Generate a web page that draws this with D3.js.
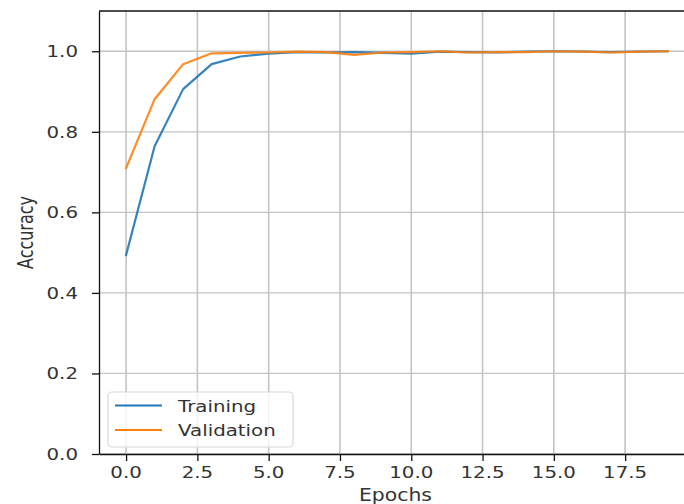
<!DOCTYPE html>
<html>
<head>
<meta charset="utf-8">
<script src="https://cdn.jsdelivr.net/npm/d3@7"></script>
<style>
    body { margin: 0; background: #fff; }
    svg { display: block; }
</style>
</head>
<body>
<div id="chart"></div>
<script>
//// data
let epochs = [0, 1, 2, 3, 4, 5, 6, 7, 8, 9, 10, 11, 12, 13, 14, 15, 16, 17, 18, 19]
let training = [0.494, 0.764, 0.906, 0.968, 0.987, 0.994, 0.998, 0.997, 0.998, 0.996,
    0.994, 0.999, 0.998, 0.997, 0.999, 1.0, 0.999, 0.998, 0.999, 1.0]
let validation = [0.71, 0.881, 0.968, 0.995, 0.996, 0.997, 0.999, 0.998, 0.991, 0.997,
    0.998, 1.0, 0.997, 0.998, 0.998, 1.0, 0.999, 0.997, 0.999, 1.0]
let seriesNames = ["Training", "Validation"]
let seriesColors = ["#1f77b4", "#ff7f0e"]
let xTicks = [0, 2.5, 5, 7.5, 10, 12.5, 15, 17.5]
let yTicks = [0, 0.2, 0.4, 0.6, 0.8, 1.0]

let width = 684
let height = 504
let margin = {top: 11, right: -11, bottom: 50, left: 99}
let font = "DejaVu Sans, sans-serif"
// the picture is stretched sideways, so text is too
let sx = 1.2

let x = d3.scaleLinear().domain([-0.95, 19.95]).range([margin.left, width - margin.right])
let y = d3.scaleLinear().domain([0, 1.1]).range([height - margin.bottom, margin.top])

const svg = d3.select("#chart").append("svg")
    .attr("width", width)
    .attr("height", height)

//// grid
svg.append("g").selectAll("line").data(xTicks).join("line")
    .attr("x1", d => x(d)).attr("x2", d => x(d))
    .attr("y1", y(1.1)).attr("y2", y(0))
    .attr("stroke", "#c4c4c4").attr("stroke-width", 1.6)
svg.append("g").selectAll("line").data(yTicks).join("line")
    .attr("x1", x(-0.95)).attr("x2", x(19.95))
    .attr("y1", d => y(d)).attr("y2", d => y(d))
    .attr("stroke", "#c4c4c4").attr("stroke-width", 1.3)

//// lines
let allSeries = [training, validation]
for (let k = 0; k < allSeries.length; k++) {
    let line = d3.line().x((d, i) => x(epochs[i])).y(d => y(d))
    svg.append("path")
        .datum(allSeries[k])
        .attr("fill", "none")
        .attr("stroke", seriesColors[k])
        .attr("stroke-width", 2.2)
        .attr("stroke-opacity", 0.9)
        .attr("stroke-linejoin", "round")
        .attr("stroke-linecap", "square")
        .attr("d", line)
}

//// axes
let xAxis = g => g.attr("transform", `translate(0,${y(0)})`)
    .call(d3.axisBottom(x).tickValues(xTicks).tickFormat(d3.format(".1f")).tickSize(7).tickSizeOuter(0))
let yAxis = g => g.attr("transform", `translate(${x(-0.95)},0)`)
    .call(d3.axisLeft(y).tickValues(yTicks).tickFormat(d3.format(".1f")).tickSize(7).tickSizeOuter(0))
let gx = svg.append("g").call(xAxis)
let gy = svg.append("g").call(yAxis)
for (let g of [gx, gy]) {
    g.select(".domain").attr("stroke", "#111").attr("stroke-width", 1.3)
    g.selectAll(".tick line").attr("stroke", "#111").attr("stroke-width", 1.3)
    g.selectAll(".tick text").remove()
}
// tick labels drawn by hand so they can be widened
svg.append("g").selectAll("text").data(xTicks).join("text")
    .attr("transform", d => `translate(${x(d)},477.5) scale(${sx},1)`)
    .attr("text-anchor", "middle")
    .attr("font-family", font).attr("font-size", 16.5).attr("fill", "#333")
    .text(d3.format(".1f"))
svg.append("g").selectAll("text").data(yTicks).join("text")
    .attr("transform", d => `translate(78,${y(d) + 6}) scale(${sx},1)`)
    .attr("text-anchor", "end")
    .attr("font-family", font).attr("font-size", 16.5).attr("fill", "#333")
    .text(d3.format(".1f"))

// top spine
svg.append("line")
    .attr("x1", x(-0.95)).attr("x2", width)
    .attr("y1", y(1.1)).attr("y2", y(1.1))
    .attr("stroke", "#111").attr("stroke-width", 1.3)

//// axis titles
svg.append("text")
    .attr("x", 395.5).attr("y", 500.5)
    .attr("text-anchor", "middle")
    .attr("font-family", font).attr("font-size", 18.5).attr("fill", "#333")
    .attr("textLength", 73).attr("lengthAdjust", "spacingAndGlyphs")
    .text("Epochs")
svg.append("text")
    .attr("transform", `translate(33,${(y(0) + y(1.1)) / 2}) scale(${sx},1) rotate(-90)`)
    .attr("text-anchor", "middle")
    .attr("font-family", font).attr("font-size", 17).attr("fill", "#333")
    .attr("textLength", 73).attr("lengthAdjust", "spacingAndGlyphs")
    .text("Accuracy")

//// legend
let legend = svg.append("g")
legend.append("rect")
    .attr("x", 108).attr("y", 392).attr("width", 185).attr("height", 55)
    .attr("rx", 4)
    .attr("fill", "#fff").attr("fill-opacity", 0.8)
    .attr("stroke", "#d8d8d8").attr("stroke-width", 1.2)
for (let k = 0; k < seriesNames.length; k++) {
    let ly = 405.5 + k * 24.5
    legend.append("line")
        .attr("x1", 115).attr("x2", 162)
        .attr("y1", ly).attr("y2", ly)
        .attr("stroke", seriesColors[k]).attr("stroke-width", 2.2)
    legend.append("text")
        .attr("transform", `translate(178,${ly + 6}) scale(${sx},1)`)
        .attr("font-family", font).attr("font-size", 16.5).attr("fill", "#333")
        .text(seriesNames[k])
}
</script>
</body>
</html>
